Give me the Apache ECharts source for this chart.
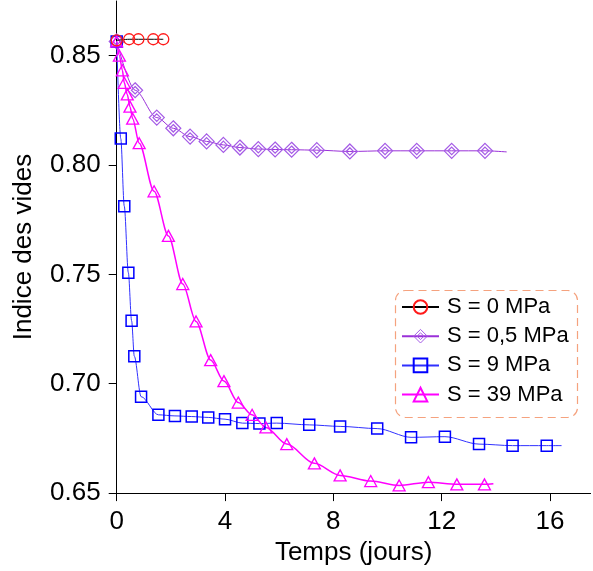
<!DOCTYPE html>
<html>
<head>
<meta charset="utf-8">
<script src="https://cdn.jsdelivr.net/npm/echarts@6/dist/echarts.min.js"></script>
<style>html,body{margin:0;padding:0;background:#fff}#c{width:593px;height:571px}</style>
</head>
<body>
<div id="c"></div>
<script>
// ---- data ----
const seriesNames = ['S = 0 MPa', 'S = 0,5 MPa', 'S = 9 MPa', 'S = 39 MPa'];
const xTicks = [0, 4, 8, 12, 16];
const yTicks = [0.65, 0.70, 0.75, 0.80, 0.85];

const s0X = [0, 0.46, 0.80, 1.35, 1.72];
const s0Y = [0.8570, 0.8575, 0.8575, 0.8575, 0.8575];

const s05X = [0, 0.68, 1.48, 2.09, 2.71, 3.32, 3.94, 4.55, 5.23, 5.85, 6.46, 7.39, 8.61, 9.91, 11.08, 12.37, 13.60];
const s05Y = [0.8565, 0.8342, 0.8217, 0.8168, 0.8130, 0.8108, 0.8092, 0.8080, 0.8073, 0.8071, 0.8070, 0.8068, 0.8062, 0.8065, 0.8065, 0.8065, 0.8065];
const s05End = [14.4, 0.8060];

const s9X = [0, 0.15, 0.28, 0.43, 0.55, 0.65, 0.90, 1.54, 2.15, 2.77, 3.38, 4.00, 4.64, 5.27, 5.91, 7.11, 8.25, 9.62, 10.87, 12.12, 13.38, 14.62, 15.88];
const s9Y = [0.8565, 0.8121, 0.7812, 0.7508, 0.7288, 0.7126, 0.6941, 0.6858, 0.6853, 0.6850, 0.6846, 0.6838, 0.6820, 0.6818, 0.6820, 0.6812, 0.6805, 0.6795, 0.6755, 0.6758, 0.6724, 0.6717, 0.6717];
const s9End = [16.43, 0.6717];

const s39X = [0, 0.10, 0.21, 0.28, 0.39, 0.49, 0.59, 0.83, 1.38, 1.91, 2.44, 2.93, 3.47, 3.96, 4.49, 5.00, 5.51, 6.28, 7.30, 8.25, 9.38, 10.43, 11.51, 12.56, 13.58];
const s39Y = [0.8565, 0.8500, 0.8433, 0.8376, 0.8323, 0.8267, 0.8212, 0.8100, 0.7880, 0.7676, 0.7456, 0.7285, 0.7108, 0.7012, 0.6914, 0.6858, 0.6800, 0.6724, 0.6636, 0.6581, 0.6555, 0.6535, 0.6550, 0.6540, 0.6540];
const s39End = [13.91, 0.6543];

// ---- build ----
function pts(xs, ys, end) {
  const d = xs.map((x, i) => [x, ys[i]]);
  if (end) d.push({ value: end, symbol: 'none' });
  return d;
}
const FONT = 'Liberation Sans, Arial, sans-serif';
const diamond2 = 'path://M0,-10L10,0L0,10L-10,0Z M0,-5L5,0L0,5L-5,0Z';
const CLEAR = 'rgba(0,0,0,0)';

const chart = echarts.init(document.getElementById('c'), null, { renderer: 'canvas' });
const common = { type: 'line', smooth: 0.3, smoothMonotone: 'x', animation: false, emphasis: { disabled: true }, clip: false };

chart.setOption({
  animation: false,
  grid: { left: 116.7, right: 2.4, top: 1, bottom: 74, containLabel: false },
  xAxis: {
    type: 'value', min: 0, max: 17.5,
    name: 'Temps (jours)', nameLocation: 'middle', nameGap: 44,
    nameTextStyle: { fontFamily: FONT, fontSize: 26, color: '#000' },
    axisLine: { show: true, lineStyle: { color: '#000', width: 1 } },
    axisTick: { show: true, length: 8, inside: false, customValues: xTicks, lineStyle: { color: '#000' } },
    axisLabel: { customValues: xTicks, margin: 16, fontFamily: FONT, fontSize: 26, color: '#000' },
    splitLine: { show: false }
  },
  yAxis: {
    type: 'value', min: 0.65, max: 0.875,
    name: 'Indice des vides', nameLocation: 'middle', nameGap: 80, nameRotate: 90,
    nameTextStyle: { fontFamily: FONT, fontSize: 26, color: '#000' },
    axisLine: { show: true, lineStyle: { color: '#000', width: 1 } },
    axisTick: { show: true, length: 8, inside: false, customValues: yTicks, lineStyle: { color: '#000' } },
    axisLabel: { customValues: yTicks, margin: 16, fontFamily: FONT, fontSize: 26, color: '#000',
      formatter: v => v.toFixed(2) },
    splitLine: { show: false }
  },
  legend: {
    orient: 'vertical', left: 401, top: 296, padding: 0,
    itemWidth: 37, itemHeight: 17, itemGap: 7.2,
    data: seriesNames.map((n, i) => i === 1
      ? { name: n, itemStyle: { color: CLEAR, borderColor: '#a55be6', borderWidth: 1 } }
      : { name: n }),
    textStyle: { fontFamily: FONT, fontSize: 22, color: '#000', lineHeight: 22, padding: [0, 0, 0, 3] }
  },
  graphic: [{
    type: 'rect', left: 393, top: 288, z: 100,
    shape: { width: 182, height: 127, r: 10 },
    style: { fill: 'none', stroke: '#f5a27e', lineWidth: 1.2, lineDash: [8, 5] }
  }],
  series: [
    Object.assign({}, common, {
      name: seriesNames[0], data: pts(s0X, s0Y), symbol: 'circle', symbolSize: 11, z: 5,
      lineStyle: { color: '#000', width: 1 },
      itemStyle: { color: CLEAR, borderColor: '#ff1a1a', borderWidth: 1.3 }
    }),
    Object.assign({}, common, {
      name: seriesNames[1], data: pts(s05X, s05Y, s05End), symbol: diamond2, symbolSize: 15, z: 3,
      lineStyle: { color: '#9a30d8', width: 1 },
      itemStyle: { color: CLEAR, borderColor: '#a55be6', borderWidth: 1.2 }
    }),
    Object.assign({}, common, {
      name: seriesNames[2], data: pts(s9X, s9Y, s9End), symbol: 'rect', symbolSize: 11, z: 4,
      lineStyle: { color: '#3030ff', width: 1 },
      itemStyle: { color: CLEAR, borderColor: '#0000ff', borderWidth: 1.5 }
    }),
    Object.assign({}, common, {
      name: seriesNames[3], data: pts(s39X, s39Y, s39End), symbol: 'triangle', symbolSize: [12, 11], z: 4,
      lineStyle: { color: '#ff00ff', width: 1.5 },
      itemStyle: { color: CLEAR, borderColor: '#ff00ff', borderWidth: 1.3 }
    })
  ]
});
</script>
</body>
</html>
